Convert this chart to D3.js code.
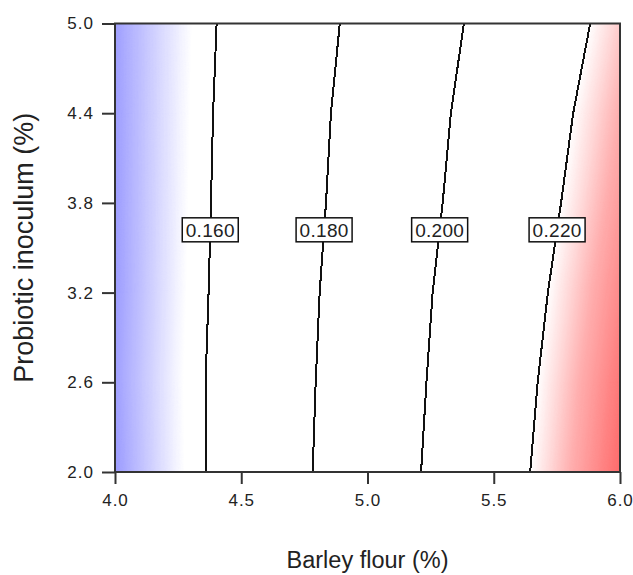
<!DOCTYPE html>
<html>
<head>
<meta charset="utf-8">
<script src="https://cdn.jsdelivr.net/npm/d3@7"></script>
<style>
  html, body { margin: 0; padding: 0; background: #fff; }
  svg { display: block; font-family: "Liberation Sans", Arial, sans-serif; }
</style>
</head>
<body>
<svg id="chart" width="633" height="575"></svg>
<script>
// Design grid: barley flour (%) along x, probiotic inoculum (%) along y
const barleyFlour = [4.0, 4.5, 5.0, 5.5, 6.0];
const probioticInoculum = [2.0, 2.6, 3.2, 3.8, 4.4, 5.0];

// Predicted response at each grid node, one row per inoculum level (2.0 -> 5.0)
const responseRows = [
  [0.1429, 0.1667, 0.1902, 0.2133, 0.2365],
  [0.1435, 0.1665, 0.1894, 0.2121, 0.2348],
  [0.1431, 0.1659, 0.1886, 0.2107, 0.2324],
  [0.1432, 0.1653, 0.1872, 0.2087, 0.2299],
  [0.1433, 0.1648, 0.1862, 0.2071, 0.2276],
  [0.1435, 0.1640, 0.1845, 0.2048, 0.2247]
];

// Contour levels that are drawn and labelled
const contourLevels = [0.160, 0.180, 0.200, 0.220];
const labelInoculum = 3.62;

// Axis ticks
const xTicks = [4.0, 4.5, 5.0, 5.5, 6.0];
const yTicks = [2.0, 2.6, 3.2, 3.8, 4.4, 5.0];

const xTitle = "Barley flour (%)";
const yTitle = "Probiotic inoculum (%)";

// ---------------------------------------------------------------
const plot = { left: 115, right: 620, top: 23.5, bottom: 472 };
const svg = d3.select("#chart");

const x = d3.scaleLinear().domain([4.0, 6.0]).range([plot.left, plot.right]);
const y = d3.scaleLinear().domain([2.0, 5.0]).range([plot.bottom, plot.top]);

const nx = barleyFlour.length, ny = probioticInoculum.length;
const values = responseRows.flat();

// contour grid coordinates -> data values (node i sits at i + 0.5)
const gx = d3.scaleLinear().domain([0.5, nx - 0.5]).range(d3.extent(barleyFlour));
const gy = d3.scaleLinear().domain([0.5, ny - 0.5]).range(d3.extent(probioticInoculum));

const projection = d3.geoTransform({
  point(px, py) { this.stream.point(x(gx(px)), y(gy(py))); }
});
const path = d3.geoPath(projection);

// diverging colour ramp: blue at the low end, white plateau, red at the top
const color = d3.scaleLinear()
  .domain([0.1430, 0.1560, 0.2200, 0.2275, 0.2365])
  .range(["#9c9cff", "#ffffff", "#ffffff", "#ffafaf", "#ff6c6c"])
  .clamp(true);

svg.append("defs").append("clipPath").attr("id", "plot-clip")
  .append("rect")
  .attr("x", plot.left).attr("y", plot.top)
  .attr("width", plot.right - plot.left).attr("height", plot.bottom - plot.top);

const body = svg.append("g").attr("clip-path", "url(#plot-clip)");

// filled surface, drawn as many thin contour bands
const step = 0.00025;
const bandThresholds = d3.range(0.140, 0.2400, step);
const bands = d3.contours().size([nx, ny]).thresholds(bandThresholds)(values);
body.append("g")
  .selectAll("path")
  .data(bands)
  .join("path")
  .attr("d", path)
  .attr("fill", d => color(d.value + step / 2))
  .attr("stroke", d => color(d.value + step / 2))
  .attr("stroke-width", 0.6);

// contour lines
const lines = d3.contours().size([nx, ny]).thresholds(contourLevels)(values);
body.append("g")
  .selectAll("path")
  .data(lines)
  .join("path")
  .attr("d", path)
  .attr("fill", "none")
  .attr("stroke", "#111")
  .attr("stroke-width", 2)
  .attr("shape-rendering", "crispEdges");

// where each contour crosses the label height
function crossingX(contour, yv) {
  let best = null;
  contour.coordinates.forEach(poly => poly.forEach(ring => {
    for (let i = 1; i < ring.length; i++) {
      const x0 = gx(ring[i - 1][0]), y0 = gy(ring[i - 1][1]);
      const x1 = gx(ring[i][0]), y1 = gy(ring[i][1]);
      if ((y0 - yv) * (y1 - yv) <= 0 && y0 !== y1) {
        const xc = x0 + (yv - y0) / (y1 - y0) * (x1 - x0);
        if (xc > 4.0 && xc < 6.0) best = xc;
      }
    }
  }));
  return best;
}

const labels = svg.append("g")
  .selectAll("g")
  .data(lines)
  .join("g")
  .attr("transform", d => `translate(${x(crossingX(d, labelInoculum))},${y(labelInoculum)})`);
labels.append("rect")
  .attr("x", -28).attr("y", -12).attr("width", 56).attr("height", 24)
  .attr("fill", "#fff").attr("stroke", "#111").attr("stroke-width", 1.5);
labels.append("text")
  .attr("text-anchor", "middle").attr("dy", "0.36em")
  .attr("font-size", 19).attr("letter-spacing", 0.3).attr("fill", "#222")
  .text(d => d3.format(".3f")(d.value));

// axes
const xAxis = svg.append("g")
  .attr("transform", `translate(0,${plot.bottom})`)
  .call(d3.axisBottom(x).tickValues(xTicks).tickFormat(d3.format(".1f"))
    .tickSize(12).tickSizeOuter(0).tickPadding(10));
const yAxis = svg.append("g")
  .attr("transform", `translate(${plot.left},0)`)
  .call(d3.axisLeft(y).tickValues(yTicks).tickFormat(d3.format(".1f"))
    .tickSize(13).tickSizeOuter(0).tickPadding(8));
[xAxis, yAxis].forEach(a => {
  a.select(".domain").remove();
  a.selectAll(".tick line").attr("stroke", "#333").attr("stroke-width", 2);
  a.selectAll(".tick text").attr("font-size", 17).attr("letter-spacing", 1).attr("fill", "#222")
    .attr("font-family", "'Liberation Sans', Arial, sans-serif");
});

// frame
svg.append("rect")
  .attr("x", plot.left).attr("y", plot.top)
  .attr("width", plot.right - plot.left).attr("height", plot.bottom - plot.top)
  .attr("fill", "none").attr("stroke", "#333").attr("stroke-width", 2);

// axis titles
svg.append("text")
  .attr("x", (plot.left + plot.right) / 2).attr("y", 568)
  .attr("text-anchor", "middle").attr("font-size", 23.5).attr("fill", "#222")
  .text(xTitle);
svg.append("text")
  .attr("transform", `translate(33,${(plot.top + plot.bottom) / 2}) rotate(-90)`)
  .attr("text-anchor", "middle").attr("font-size", 27).attr("fill", "#222")
  .text(yTitle);
</script>
</body>
</html>
